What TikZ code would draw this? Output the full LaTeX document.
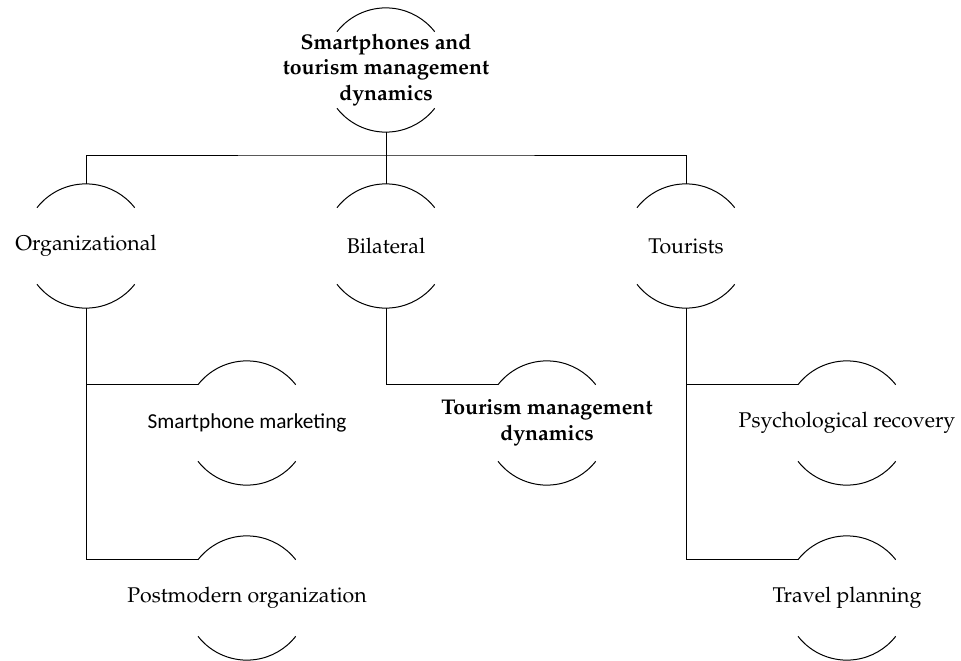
\documentclass[tikz,border=0pt]{standalone}
\usepackage{fontspec}
\newfontfamily\calibri{Carlito}
\newcommand\pal{\fontencoding{T1}\fontfamily{ppl}\selectfont}
\begin{document}
\begin{tikzpicture}[x=1pt,y=1pt,
  ring/.style={circle,draw=none,minimum size=124pt,inner sep=0pt},
  lbl/.style={align=center,font=\pal\fontsize{21.3}{26}\selectfont},
  blbl/.style={align=center,font=\pal\bfseries\fontsize{21.3}{25.5}\selectfont},
  slbl/.style={align=center,font=\calibri\fontsize{21.3}{26}\selectfont},
  conn/.style={line width=1pt},
  arcs/.style={line width=1pt}]
\useasboundingbox (0,0) rectangle (961,-661);
% rings
\node[ring] (top) at (386,-70) {};
\node[ring] (org) at (86,-246) {};
\node[ring] (bil) at (386,-246) {};
\node[ring] (tou) at (686,-246) {};
\node[ring] (smm) at (247,-423) {};
\node[ring] (tmd) at (547,-423) {};
\node[ring] (psy) at (847,-423) {};
\node[ring] (pmo) at (247,-598) {};
\node[ring] (trp) at (847,-598) {};
\foreach \n in {top,org,bil,tou,smm,tmd,psy,pmo,trp}{
  \draw[arcs] (\n.142) arc[start angle=142,end angle=38,radius=62pt];
  \draw[arcs] (\n.218) arc[start angle=218,end angle=322,radius=62pt];
}
% labels
\node[blbl] (ttop) at (top) {Smartphones and\\tourism management\\dynamics};
\node[lbl] (torg) at (org) {Organizational};
\node[lbl] (tbil) at (bil) {Bilateral};
\node[lbl] (ttou) at (tou) {Tourists};
\node[slbl] (tsmm) at (smm) {Smartphone marketing};
\node[blbl] (ttmd) at (tmd) {Tourism management\\dynamics};
\node[lbl] (tpsy) at (psy) {Psychological recovery};
\node[lbl] (tpmo) at (pmo) {Postmodern organization};
\node[lbl] (ttrp) at (trp) {Travel planning};
% connectors
\coordinate (j) at (386,-155);
\draw[conn] (top.south) -- (j);
\draw[conn] (org.north) |- (j) -| (tou.north);
\draw[conn] (bil.north) -- (j);
\draw[conn] (org.south) |- (smm.142);
\draw[conn] (org.south) |- (pmo.142);
\draw[conn] (bil.south) |- (tmd.142);
\draw[conn] (tou.south) |- (psy.142);
\draw[conn] (tou.south) |- (trp.142);
\end{tikzpicture}
\end{document}
